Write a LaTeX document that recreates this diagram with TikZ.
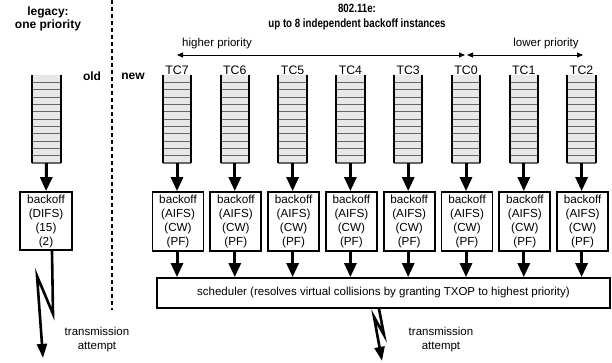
\documentclass[tikz,border=0pt]{standalone}
\usepackage{fontspec}
\setmainfont{Liberation Sans}
\usetikzlibrary{arrows.meta}
\begin{document}
\begin{tikzpicture}[x=1pt,y=-1pt,
  txt/.style={font=\fontsize{11.5}{14}\selectfont, inner sep=0pt, align=center},
  tclab/.style={font=\fontsize{12.3}{14}\selectfont, inner sep=0pt},
  bld/.style={font=\bfseries\fontsize{12}{13.5}\selectfont, inner sep=0pt, align=center},
  queue/.style={minimum width=28pt, minimum height=88pt, inner sep=0pt, fill=black!9, draw=none,
     path picture={\foreach \k in {1,...,11}{\draw[black!60, line width=1pt] ([yshift=-\k*7.333pt]path picture bounding box.north west) -- ([yshift=-\k*7.333pt]path picture bounding box.north east);}}},
  qside/.style={line width=2pt},
  qbot/.style={line width=1.6pt, black!60},
  boff/.style={draw, line width=1.8pt, minimum width=51pt, minimum height=59pt, inner sep=0pt, align=center, font=\fontsize{11.7}{14}\selectfont},
  sched/.style={draw, line width=1.8pt, minimum width=453pt, minimum height=30pt, inner sep=0pt, font=\fontsize{11.5}{14}\selectfont},
  flow/.style={line width=3pt, -{Triangle[width=12pt,length=14pt]}},
  bolt/.style={line width=2.6pt, line join=miter, -{Triangle[width=10pt,length=14pt]}},
  prio/.style={line width=0.8pt, {Triangle[width=5pt,length=6pt]}-{Triangle[width=5pt,length=6pt]}},
  sep/.style={line width=1.6pt, dash pattern=on 4pt off 3pt},
]
\useasboundingbox (0,0) rectangle (612,362);

% headings
\node[bld] (legacy) at (48,19) {legacy:\\one priority};
\node[bld, font=\bfseries\fontsize{12}{15}\selectfont] (title) at (357,17.5) {\scalebox{0.81}[1]{802.11e:}\\\scalebox{0.81}[1]{up to 8 independent backoff instances}};
\node[bld] (old) at (92,76) {old};
\node[bld] (new) at (133,76) {new};

% separator
\coordinate (sepT) at (112,0);
\coordinate (sepB) at (112,310);
\draw[sep] (sepT) -- (sepB);

% priority arrows
\coordinate (hpL) at (177,55);
\coordinate (hpR) at (465,55);
\coordinate (lpL) at (467,55);
\coordinate (lpR) at (583,55);
\draw[prio] (hpL) -- (hpR);
\draw[prio] (lpL) -- (lpR);
\node[txt] (hp) at (217,44) {higher priority};
\node[txt] (lp) at (546,44) {lower priority};

% scheduler
\node[sched] (s) at (383.5,293) {scheduler (resolves virtual collisions by granting TXOP to highest priority)};

% legacy queue
\node[queue] (ql) at (46.5,119) {};
\draw[qbot] (ql.south west) -- (ql.south east);
\draw[qside] (ql.north west) -- (ql.south west);
\draw[qside] (ql.north east) -- (ql.south east);
\node[boff, minimum width=52pt, minimum height=58pt] (bl) at (46,221) {backoff\\(DIFS)\\(15)\\(2)};
\draw[flow] (ql.south) -- (bl.north);
\draw[bolt] ([xshift=6pt]bl.south) -- ++(1,63) -- ++(-16,-38) -- ++(6,82);
\node[txt] (ta1) at (97,340) {transmission\\attempt};

% 802.11e queues
\foreach \tc/\xx in {7/177,6/234.8,5/292.6,4/350.4,3/408.2,0/466,1/523.8,2/581.6} {
  \node[tclab] (t\tc) at (\xx,70) {TC\tc};
  \node[queue] (q\tc) at (\xx,119) {};
  \draw[qbot] (q\tc.south west) -- (q\tc.south east);
  \draw[qside] (q\tc.north west) -- (q\tc.south west);
  \draw[qside] (q\tc.north east) -- (q\tc.south east);
  \node[boff] (b\tc) at (\xx+1,221.5) {backoff\\(AIFS)\\(CW)\\(PF)};
  \draw[flow] (q\tc.south) -- (q\tc.south |- b\tc.north);
  \draw[flow] (q\tc.south |- b\tc.south) -- (q\tc.south |- s.north);
}

\draw[bolt] ([xshift=-4.5pt]s.south) -- ++(5,26) -- ++(-10,-18) -- ++(8,44);
\node[txt] (ta2) at (441,340) {transmission\\attempt};
\end{tikzpicture}
\end{document}
